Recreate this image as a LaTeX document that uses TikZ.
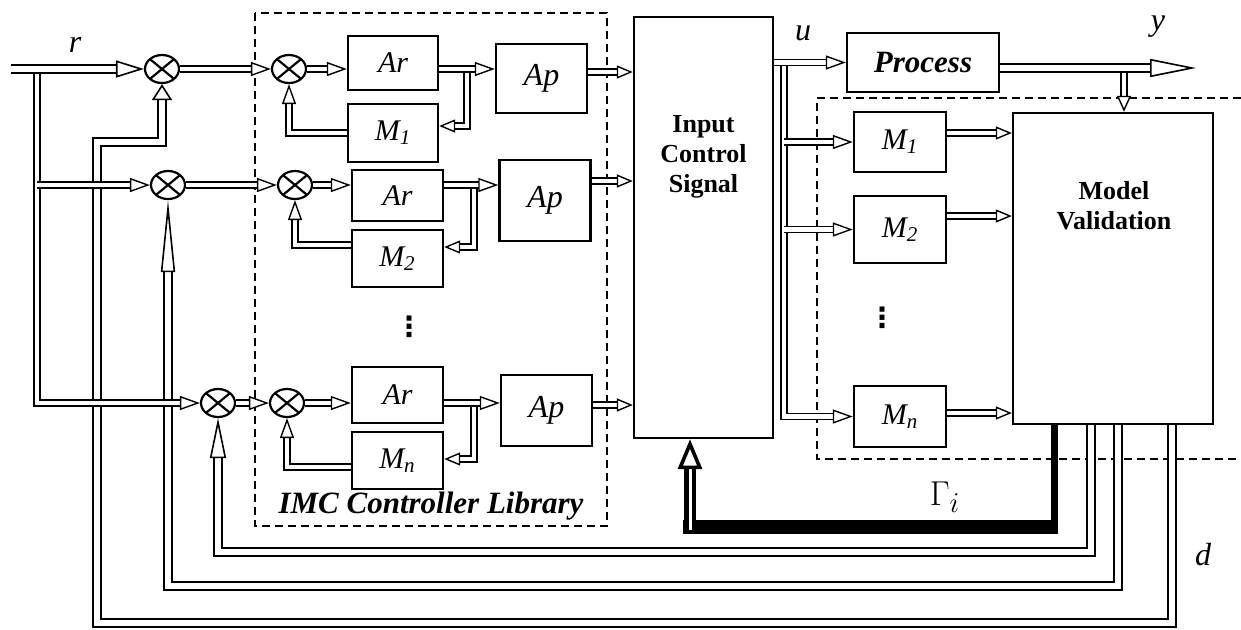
\documentclass[tikz,border=0pt]{standalone}
\usepackage{fontspec}
\setmainfont{Liberation Serif}
\newfontfamily\symfont{DejaVu Sans}
\usetikzlibrary{arrows.meta, shapes.geometric}

\begin{document}
\begin{tikzpicture}[x=0.5pt, y=-0.5pt,
  blk/.style={draw, line width=1.2pt, inner sep=0pt, font=\fontsize{15}{18}\selectfont\itshape},
  apbox/.style={blk, minimum width=45.5pt, font=\fontsize{16}{18}\selectfont\itshape},
  mbox/.style={blk, minimum width=46pt},
  sumj/.style={ellipse, draw, line width=1.1pt, minimum width=17pt, minimum height=14pt, inner sep=0pt,
    path picture={\draw[line width=1.1pt] (path picture bounding box.north west) -- (path picture bounding box.south east)
      (path picture bounding box.south west) -- (path picture bounding box.north east);}},
  sigl/.style={double, double distance=2.4pt, line width=0.7pt},
  sig/.style={sigl, -{Triangle[fill=white, line width=0.7pt, length=10pt, width=7pt]}},
  sigs/.style={sigl, -{Triangle[fill=white, line width=0.7pt, length=8pt, width=6.5pt]}},
  bus/.style={double, double distance=3.4pt, line width=0.8pt},
  gam/.style={double, double distance=1.5pt, line width=2.4pt, -{Triangle[fill=white, line width=1.8pt, length=15pt, width=12pt]}},
  dashbox/.style={line width=1pt, dash pattern=on 4pt off 2.5pt},
  lbl/.style={font=\fontsize{16}{18}\selectfont\itshape},
  dotsl/.style={font=\symfont\bfseries\fontsize{14}{15}\selectfont},
  head/.style={font=\fontsize{13}{15}\selectfont\bfseries, align=center}
]
  \useasboundingbox (0,0) rectangle (1241,629);

  % IMC controller library
  \draw[dashbox] (255,13) rectangle (607,526);
  \node[font=\fontsize{15.5}{18}\selectfont\bfseries\itshape] (imcL) at (431,506) {IMC Controller Library};
  \node[sumj] (sumA1) at (162,69) {};
  \node[sumj] (sumA2) at (168,185) {};
  \node[sumj] (sumA3) at (218,403) {};
  \node[sumj] (sumB1) at (289,69) {};
  \node[sumj] (sumB2) at (295,185) {};
  \node[sumj] (sumB3) at (287,403) {};
  \node[blk, minimum width=45pt, minimum height=27pt] (ar1) at (393,63) {Ar};
  \node[blk, minimum width=45pt, minimum height=29pt] (m1) at (393,133) {M\textsubscript{1}};
  \node[apbox, minimum height=34.5pt] (ap1) at (541.5,78.5) {Ap};
  \node[blk, minimum width=45.5pt, minimum height=25.5pt] (ar2) at (397.5,195.5) {Ar};
  \node[blk, minimum width=45.5pt, minimum height=28.5pt] (m2) at (397.5,258.5) {M\textsubscript{2}};
  \node[apbox, minimum height=40.5pt] (ap2) at (545,200.5) {Ap};
  \node[dotsl] (dotsL) at (409,327) {⋮};
  \node[blk, minimum width=45.5pt, minimum height=28pt] (ar3) at (397.5,395) {Ar};
  \node[blk, minimum width=45.5pt, minimum height=28.5pt] (mn) at (397.5,460.5) {M\textsubscript{n}};
  \node[apbox, minimum height=35.5pt] (ap3) at (546.5,410.5) {Ap};

  % input control, process, models
  \node[blk, minimum width=69.5pt, minimum height=210.5pt] (ics) at (703.5,227.5) {};
  \node[head] (icsT) at (703.5,157) {Input\\Control\\Signal};
  \node[blk, minimum width=76pt, minimum height=29.5pt, font=\fontsize{15.5}{18}\selectfont\bfseries\itshape] (proc) at (923,62.5) {Process};
  \draw[dashbox] (1241,98) -| (817,459) -- (1241,459);
  \node[mbox, minimum height=30pt] (mm1) at (900,142) {M\textsubscript{1}};
  \node[mbox, minimum height=33.5pt] (mm2) at (900,229.5) {M\textsubscript{2}};
  \node[dotsl] (dotsR) at (882,318) {⋮};
  \node[mbox, minimum height=30.5pt] (mmn) at (900,416.5) {M\textsubscript{n}};
  \node[blk, minimum width=100pt, minimum height=155.5pt] (mv) at (1113,268.5) {};
  \node[head] (mvT) at (1114,206) {Model\\Validation};

  % labels
  \node[lbl] (rL) at (75,45) {r};
  \node[lbl] (uL) at (803,33) {u};
  \node[lbl] (yL) at (1158,27) {y};
  \node[lbl] (dL) at (1203,555) {d};
  \node (gL) at (945,497) {\fontsize{19}{22}\selectfont$\Gamma_i$};

  % feedback to the summing junctions
  \draw[bus, -{Triangle[fill=white, line width=0.8pt, length=20pt, width=8pt]}]
    (1091,0 |- mv.south) |- (sumA3.south |- 0,552) -- (sumA3.south);
  \draw[bus, -{Triangle[fill=white, line width=0.8pt, length=36pt, width=7pt]}]
    (1118,0 |- mv.south) |- (sumA2.south |- 0,586) -- (sumA2.south);
  \draw[bus, -{Triangle[fill=white, line width=0.8pt, length=8pt, width=10pt]}]
    (1172,0 |- mv.south) |- (97,623) |- (sumA1.south |- 0,142) -- (sumA1.south);

  % reference r
  \coordinate (rIn) at (11,69);
  \coordinate (rSplit) at (37,69);
  \draw[sig] (rSplit) |- (sumA3.west);
  \draw[sig] (rSplit |- sumA2) -- (sumA2.west);
  \draw[bus, -{Triangle[fill=white, line width=0.8pt, length=14pt, width=8.5pt]}] (rIn) -- (sumA1.west);

  % controller rows
  \draw[sig] (sumA1.east) -- (sumB1.west);
  \draw[sig] (sumA2.east) -- (sumB2.west);
  \draw[sig] (sumA3.east) -- (sumB3.west);
  \draw[sig] (sumB1.east) -- (sumB1 -| ar1.west);
  \draw[sig] (sumB2.east) -- (sumB2 -| ar2.west);
  \draw[sig] (sumB3.east) -- (sumB3 -| ar3.west);
  \draw[sigs] (467,0 |- sumB1) |- (m1.east |- 0,126);
  \draw[sigs] (474,0 |- sumB2) |- (m2.east |- 0,247);
  \draw[sigs] (474,0 |- sumB3) |- (mn.east |- 0,459);
  \draw[sig] (sumB1 -| ar1.east) -- (sumB1 -| ap1.west);
  \draw[sig] (sumB2 -| ar2.east) -- (sumB2 -| ap2.west);
  \draw[sig] (sumB3 -| ar3.east) -- (sumB3 -| ap3.west);
  \draw[sig] (m1.west) -| (sumB1.south);
  \draw[sig] (m2.west |- 0,245) -| (sumB2.south);
  \draw[sig] (mn.west |- 0,467) -| (sumB3.south);
  \draw[sigs] (ap1.east |- 0,72) -- (ics.west |- 0,72);
  \draw[sigs] (ap2.east |- 0,181) -- (ics.west |- 0,181);
  \draw[sigs] (ap3.east |- 0,405) -- (ics.west |- 0,405);

  % control signal u
  \coordinate (uSplit) at (784,66);
  \draw[sig] (uSplit) |- (mmn.west);
  \draw[sig] (uSplit |- mm1.west) -- (mm1.west);
  \draw[sig] (uSplit |- mm2.west) -- (mm2.west);
  \draw[sig] (ics.east |- proc.west) -- (proc.west);
  \draw[sigs] (mm1.east |- 0,133) -- (mv.west |- 0,133);
  \draw[sigs] (mm2.east |- 0,216) -- (mv.west |- 0,216);
  \draw[sigs] (mmn.east |- 0,413) -- (mv.west |- 0,413);

  % output y
  \coordinate (yEnd) at (1196,68);
  \coordinate (ySplit) at (1124,70);
  \draw[sigl, -{Triangle[fill=white, line width=0.7pt, length=8pt, width=7pt]}] (ySplit) -- (ySplit |- mv.north);
  \draw[bus, -{Triangle[fill=white, line width=0.8pt, length=23pt, width=9pt]}] (proc.east |- yEnd) -- (yEnd);

  % switching signal
  \coordinate (gA) at (1054,0 |- mv.south);
  \coordinate (gB) at (1054,527);
  \coordinate (gC) at (690,527);
  \draw[line width=3.5pt] (gA) -- ([yshift=-3.5pt]gB);
  \draw[line width=7pt] ([xshift=1.75pt]gB) -- ([xshift=-3.5pt]gC);
  \draw[gam] ([yshift=-1.5pt]gC) -- (gC |- ics.south);
\end{tikzpicture}
\end{document}
